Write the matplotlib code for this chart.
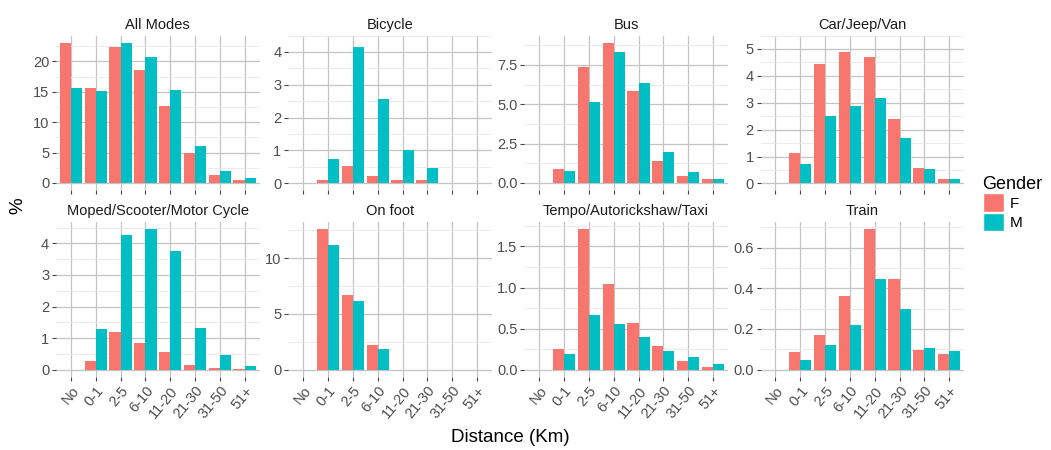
# travel distance by mode and gender, faceted bar chart

import numpy as np
import matplotlib.pyplot as plt
from matplotlib.patches import Patch

plt.rcParams['font.family'] = ['Liberation Sans', 'DejaVu Sans']

distances = ['No', '0-1', '2-5', '6-10', '11-20', '21-30', '31-50', '51+']
modes = ['All Modes', 'Bicycle', 'Bus', 'Car/Jeep/Van',
         'Moped/Scooter/Motor Cycle', 'On foot', 'Tempo/Autorickshaw/Taxi', 'Train']

# % of people, female / male
all_f = [23.0, 15.6, 22.3, 18.6, 12.6, 5.0, 1.37, 0.44]
all_m = [15.7, 15.05, 23.1, 20.8, 15.3, 6.1, 1.98, 0.77]
bicycle_f = [0, 0.11, 0.51, 0.22, 0.09, 0.09, 0, 0]
bicycle_m = [0, 0.74, 4.15, 2.57, 1.0, 0.46, 0, 0]
bus_f = [0, 0.91, 7.39, 8.92, 5.85, 1.40, 0.47, 0.23]
bus_m = [0, 0.76, 5.13, 8.30, 6.36, 1.97, 0.70, 0.23]
car_f = [0, 1.14, 4.43, 4.87, 4.71, 2.39, 0.57, 0.18]
car_m = [0, 0.73, 2.52, 2.88, 3.19, 1.69, 0.54, 0.15]
moped_f = [0, 0.27, 1.20, 0.85, 0.57, 0.16, 0.06, 0.03]
moped_m = [0, 1.29, 4.28, 4.45, 3.76, 1.32, 0.45, 0.13]
foot_f = [0, 12.6, 6.67, 2.23, 0, 0, 0, 0]
foot_m = [0, 11.2, 6.19, 1.85, 0, 0, 0, 0]
tempo_f = [0, 0.25, 1.71, 1.04, 0.57, 0.29, 0.10, 0.036]
tempo_m = [0, 0.185, 0.67, 0.56, 0.40, 0.226, 0.15, 0.073]
train_f = [0, 0.088, 0.172, 0.36, 0.69, 0.445, 0.096, 0.075]
train_m = [0, 0.046, 0.119, 0.219, 0.445, 0.30, 0.106, 0.092]

yticks = [[0, 5, 10, 15, 20], [0, 1, 2, 3, 4], [0, 2.5, 5, 7.5], [0, 1, 2, 3, 4, 5],
          [0, 1, 2, 3, 4], [0, 5, 10], [0, 0.5, 1.0, 1.5], [0, 0.2, 0.4, 0.6]]
ytick_fmt = ['%g', '%g', '%.1f', '%g', '%g', '%g', '%.1f', '%.1f']

females = [all_f, bicycle_f, bus_f, car_f, moped_f, foot_f, tempo_f, train_f]
males = [all_m, bicycle_m, bus_m, car_m, moped_m, foot_m, tempo_m, train_m]

col_f = '#F8766D'
col_m = '#00BFC4'

W, H = 1051, 450
fig = plt.figure(figsize=(W / 100, H / 100), dpi=100)

lefts = [56.1, 288.4, 524.4, 760.6]
pw = 203.4
tops = [35.5, 222.2]
ph = 154.5

x = np.arange(len(distances))
for i, mode in enumerate(modes):
    r, c = divmod(i, 4)
    ax = fig.add_axes([lefts[c] / W, 1 - (tops[r] + ph) / H, pw / W, ph / H])
    f = np.array(females[i])
    m = np.array(males[i])
    ax.bar(x - 0.225, f, width=0.45, color=col_f, zorder=3)
    ax.bar(x + 0.225, m, width=0.45, color=col_m, zorder=3)
    top = max(f.max(), m.max())
    ax.set_ylim(-0.05 * top, 1.05 * top)
    ax.set_xlim(-0.6, 7.6)
    t = yticks[i]
    ax.set_yticks(t)
    ax.set_yticklabels([ytick_fmt[i] % v for v in t])
    step = t[1] - t[0]
    ax.set_yticks([v + step / 2 for v in t], minor=True)
    ax.set_xticks(x)
    if r == 1:
        ax.set_xticklabels(distances, rotation=50, ha='right', va='top',
                           rotation_mode='anchor')
    else:
        ax.set_xticklabels([])
    for s in ax.spines.values():
        s.set_visible(False)
    ax.grid(which='major', color='#c4c4c4', lw=0.9, zorder=0)
    ax.grid(which='minor', axis='y', color='#e8e8e8', lw=0.6, zorder=0)
    ax.set_axisbelow(True)
    ax.tick_params(which='major', length=3, width=0.8, color='#444444',
                   labelcolor='#4d4d4d', labelsize=10.5, pad=2)
    ax.tick_params(which='minor', length=0)
    ax.set_title(mode, fontsize=10.5, color='#1a1a1a', pad=5)

fig.text(510 / W, 1 - 438 / H, 'Distance (Km)', ha='center', va='center', fontsize=13.5)
fig.text(18 / W, 1 - 206 / H, '%', ha='center', va='center', rotation=90, fontsize=13.5)

handles = [Patch(facecolor=col_f, edgecolor='white', label='F'),
           Patch(facecolor=col_m, edgecolor='white', label='M')]
fig.legend(handles=handles, title='Gender', loc='upper left',
           bbox_to_anchor=(978 / W, 1 - 171 / H), frameon=False,
           fontsize=11, title_fontsize=13, alignment='left',
           handlelength=1.4, handleheight=1.5, handletextpad=0.4,
           labelspacing=0.05, borderaxespad=0, borderpad=0.3)

fig.savefig('out.png', dpi=100)
